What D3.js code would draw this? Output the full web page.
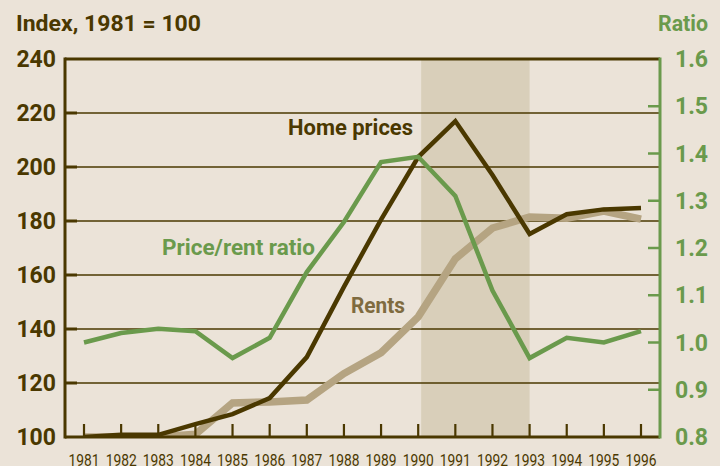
<!DOCTYPE html>
<html>
<head>
<meta charset="utf-8">
<script src="https://cdn.jsdelivr.net/npm/d3@7"></script>
<style>
  body { margin: 0; background: #ebe3d8; }
  svg { display: block; }
  text { font-family: Roboto, "Liberation Sans", sans-serif; }
</style>
</head>
<body>
<svg id="chart"></svg>
<script>
/* DATA */
const years = d3.range(1981, 1997);
const homePrices = [100, 100.8, 100.8, 104.8, 108.5, 114.4, 129.6, 155.6, 180.5, 203.7, 217, 197, 175.2, 182.5, 184.3, 184.8];
const rents = [100, 100, 100, 101, 112.6, 113, 113.7, 123.5, 131.2, 144.5, 166, 177.4, 181.5, 181, 183.7, 180.7];
const ratio = [1.0, 1.02, 1.029, 1.024, 0.967, 1.01, 1.149, 1.255, 1.382, 1.393, 1.31, 1.11, 0.967, 1.01, 1.0, 1.024];
const leftTicks = [100, 120, 140, 160, 180, 200, 220, 240];
const rightTicks = [0.8, 0.9, 1.0, 1.1, 1.2, 1.3, 1.4, 1.5, 1.6];
const recession = [1990.08, 1993];

/* CONSTANTS */
const width = 720, height = 466;
const margin = { top: 59, right: 60, bottom: 29, left: 65 };
const dark = "#4a3800", green = "#6a9a4c", tan = "#b5a482", tanText = "#7f6b3f";

const svg = d3.select("#chart").attr("width", width).attr("height", height);
svg.append("rect").attr("width", width).attr("height", height).attr("fill", "#ebe3d8");

// scales
const x = d3.scaleLinear().domain([1981, 1996]).range([84, 641]);
const y = d3.scaleLinear().domain([100, 240]).range([height - margin.bottom, margin.top]);
const yR = d3.scaleLinear().domain([0.8, 1.6]).range([height - margin.bottom, margin.top]);
const x0 = margin.left, x1 = width - margin.right, yb = height - margin.bottom;

// recession shading
svg.append("rect")
  .attr("x", x(recession[0])).attr("width", x(recession[1]) - x(recession[0]))
  .attr("y", margin.top).attr("height", yb - margin.top)
  .attr("fill", "#d9cfba");

// gridlines
svg.append("g").selectAll("line")
  .data(leftTicks.filter(d => d > 100 && d < 240))
  .join("line")
  .attr("x1", x0).attr("x2", x1)
  .attr("y1", d => y(d)).attr("y2", d => y(d))
  .attr("stroke", dark).attr("stroke-width", 1.3);

// lines
svg.append("clipPath").attr("id", "clip")
  .append("rect").attr("x", x0).attr("y", margin.top).attr("width", x1 - x0).attr("height", yb - margin.top);

const plot = svg.append("g").attr("clip-path", "url(#clip)");
const lineL = d3.line().x((d, i) => x(years[i])).y(d => y(d));
const lineR = d3.line().x((d, i) => x(years[i])).y(d => yR(d));

plot.append("path").datum(rents).attr("d", lineL)
  .attr("fill", "none").attr("stroke", tan).attr("stroke-width", 7.5).attr("stroke-linejoin", "miter");
plot.append("path").datum(homePrices).attr("d", lineL)
  .attr("fill", "none").attr("stroke", dark).attr("stroke-width", 4.5).attr("stroke-linejoin", "miter");
plot.append("path").datum(ratio).attr("d", lineR)
  .attr("fill", "none").attr("stroke", green).attr("stroke-width", 4.5).attr("stroke-linejoin", "miter");

// axes frame
svg.append("line").attr("x1", x0).attr("x2", x1).attr("y1", margin.top).attr("y2", margin.top)
  .attr("stroke", dark).attr("stroke-width", 3);
svg.append("line").attr("x1", x0).attr("x2", x1).attr("y1", yb).attr("y2", yb)
  .attr("stroke", dark).attr("stroke-width", 3);
svg.append("line").attr("x1", x0).attr("x2", x0).attr("y1", margin.top - 1.5).attr("y2", yb + 1.5)
  .attr("stroke", dark).attr("stroke-width", 3);
svg.append("line").attr("x1", x1).attr("x2", x1).attr("y1", margin.top - 1.5).attr("y2", yb + 1.5)
  .attr("stroke", green).attr("stroke-width", 3);

// left ticks + labels
svg.append("g").selectAll("line")
  .data(leftTicks.filter(d => d > 100 && d < 240))
  .join("line")
  .attr("x1", x0).attr("x2", x0 + 12)
  .attr("y1", d => y(d)).attr("y2", d => y(d))
  .attr("stroke", dark).attr("stroke-width", 3);
svg.append("g").selectAll("text")
  .data(leftTicks).join("text")
  .attr("x", 56).attr("y", d => y(d) + 8)
  .attr("text-anchor", "end")
  .attr("font-size", 23).attr("font-weight", "bold").attr("fill", dark)
  .text(d => d);

// right ticks + labels
svg.append("g").selectAll("line")
  .data(rightTicks.filter(d => d > 0.8 && d < 1.6))
  .join("line")
  .attr("x1", x1 - 12).attr("x2", x1)
  .attr("y1", d => yR(d)).attr("y2", d => yR(d))
  .attr("stroke", green).attr("stroke-width", 2.5);
svg.append("g").selectAll("text")
  .data(rightTicks).join("text")
  .attr("x", 675).attr("y", d => yR(d) + 8)
  .attr("font-size", 23).attr("font-weight", "bold").attr("fill", green)
  .text(d => d.toFixed(1));

// bottom ticks + labels
svg.append("g").selectAll("line")
  .data(years).join("line")
  .attr("x1", d => x(d)).attr("x2", d => x(d))
  .attr("y1", yb - 13).attr("y2", yb)
  .attr("stroke", dark).attr("stroke-width", 2.2);
svg.append("g").selectAll("text")
  .data(years).join("text")
  .attr("x", d => x(d) - 15.5).attr("y", 466)
  .attr("font-size", 17).attr("fill", dark)
  .attr("textLength", 31).attr("lengthAdjust", "spacingAndGlyphs")
  .text(d => d);

// titles
svg.append("text").attr("x", 16).attr("y", 31)
  .attr("font-size", 22).attr("font-weight", "bold").attr("fill", dark)
  .attr("textLength", 185).attr("lengthAdjust", "spacingAndGlyphs")
  .text("Index, 1981 = 100");
svg.append("text").attr("x", 658).attr("y", 31)
  .attr("font-size", 22).attr("font-weight", "bold").attr("fill", green)
  .attr("textLength", 50).attr("lengthAdjust", "spacingAndGlyphs")
  .text("Ratio");

// series labels
svg.append("text").attr("x", 288).attr("y", 135)
  .attr("font-size", 22).attr("font-weight", "bold").attr("fill", dark)
  .attr("textLength", 125).attr("lengthAdjust", "spacingAndGlyphs")
  .text("Home prices");
svg.append("text").attr("x", 162).attr("y", 255)
  .attr("font-size", 22).attr("font-weight", "bold").attr("fill", green)
  .attr("textLength", 153).attr("lengthAdjust", "spacingAndGlyphs")
  .text("Price/rent ratio");
svg.append("text").attr("x", 351).attr("y", 313)
  .attr("font-size", 22).attr("font-weight", "bold").attr("fill", tanText)
  .attr("textLength", 54).attr("lengthAdjust", "spacingAndGlyphs")
  .text("Rents");
</script>
</body>
</html>
